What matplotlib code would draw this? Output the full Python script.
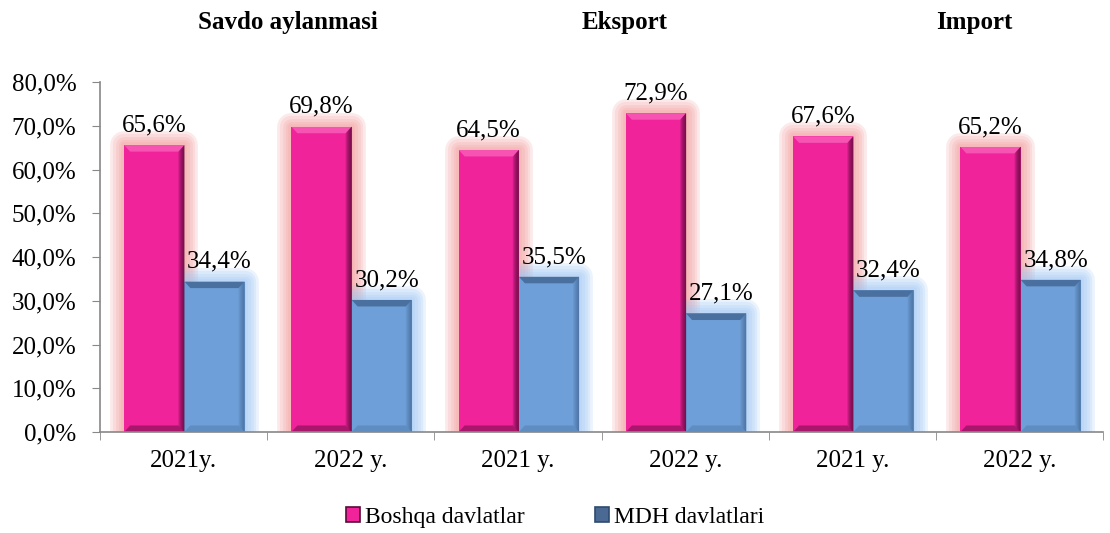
import numpy as np
import matplotlib
matplotlib.use('Agg')
import matplotlib.pyplot as plt
import matplotlib.patheffects as pe
from matplotlib.patches import Polygon
from matplotlib.ticker import FuncFormatter, MultipleLocator

plt.rcParams['font.family'] = ['Liberation Serif', 'DejaVu Serif']

# Data
year_labels = ['2021y.', '2022 y.', '2021 y.', '2022 y.', '2021 y.', '2022 y.']
section_titles = ['Savdo aylanmasi', 'Eksport', 'Import']
boshqa = [65.6, 69.8, 64.5, 72.9, 67.6, 65.2]
mdh = [34.4, 30.2, 35.5, 27.1, 32.4, 34.8]
series_names = ['Boshqa davlatlar', 'MDH davlatlari']

pink = '#F0239B'
pink_dark = '#5A0A3A'
pink_glow = '#F49A9A'
blue = '#6E9FD8'
blue_dark = '#2E4B70'
blue_glow = '#9CC6F5'


def glow(color, steps=(20, 16, 12, 8, 4)):
    # only strokes, the real bar is drawn on top
    return [pe.Stroke(linewidth=w, foreground=color, alpha=0.2, joinstyle='round')
            for w in steps]


def bevel(ax, bar, dark, light, light_alpha, side_alpha, tb=1.5):
    x0, w, h = bar.get_x(), bar.get_width(), bar.get_height()
    x1 = x0 + w
    edge = w * 0.1
    n = 6
    # right dark edge, faded in strips
    for i in range(n):
        xa = x1 - edge * (i + 1) / n
        ax.add_patch(Polygon([(xa, tb * (i + 1) / n), (x1, 0), (x1, h), (xa, h - tb * (i + 1) / n)],
                             closed=True, facecolor=dark, alpha=side_alpha / n * 1.6,
                             lw=0, zorder=3))
    # bottom dark edge
    ax.add_patch(Polygon([(x0, 0), (x1, 0), (x1 - edge, tb), (x0 + edge, tb)],
                         closed=True, facecolor=dark, alpha=side_alpha * 0.6, lw=0, zorder=3))
    # top bevel
    ax.add_patch(Polygon([(x0, h), (x1, h), (x1 - edge, h - tb), (x0 + edge, h - tb)],
                         closed=True, facecolor=light, alpha=light_alpha, lw=0, zorder=3))


fig = plt.figure(figsize=(11.1, 5.33), dpi=100)
ax = fig.add_axes([0.090, 0.1895, 0.904, 0.6565])

x = np.arange(len(year_labels))
bw = 0.36
pos1 = x - bw / 2 + 0.005
pos2 = x + bw / 2 + 0.005

# glow layer behind all bars
g1 = ax.bar(pos1, boshqa, bw, color='none', zorder=1, linewidth=0)
g2 = ax.bar(pos2, mdh, bw, color='none', zorder=1, linewidth=0)
for b in g1:
    b.set_facecolor(pink_glow)
    b.set_path_effects(glow(pink_glow))
for b in g2:
    b.set_facecolor(blue_glow)
    b.set_path_effects(glow(blue_glow))

bars1 = ax.bar(pos1, boshqa, bw, color=pink, zorder=2, linewidth=0)
bars2 = ax.bar(pos2, mdh, bw, color=blue, zorder=2, linewidth=0)

for b in bars1:
    bevel(ax, b, pink_dark, '#FF8FD0', 0.45, 0.8)
for b in bars2:
    bevel(ax, b, blue_dark, blue_dark, 0.55, 0.35)

for b, v in zip(bars1, boshqa):
    ax.text(b.get_x() + b.get_width() / 2, v + 2.0, f'{v:.1f}%'.replace('.', ','),
            ha='center', va='bottom', fontsize=18, zorder=6)
for b, v in zip(bars2, mdh):
    ax.text(b.get_x() + b.get_width() / 2 + 0.03, v + 2.0, f'{v:.1f}%'.replace('.', ','),
            ha='center', va='bottom', fontsize=18, zorder=6)

ax.set_xlim(-0.5, len(year_labels) - 0.5)
ax.set_ylim(0, 80)
ax.yaxis.set_major_locator(MultipleLocator(10))
ax.yaxis.set_major_formatter(FuncFormatter(lambda v, p: f'{v:.1f}%'.replace('.', ',')))

ax.set_xticks(x)
ax.set_xticklabels(year_labels)
ax.set_xticks(np.arange(-0.5, len(year_labels)), minor=True)
ax.tick_params(axis='x', which='major', length=0, pad=13, labelsize=18)
ax.tick_params(axis='x', which='minor', length=6, color='#888888', direction='out')
ax.tick_params(axis='y', length=6, color='#888888', labelsize=18, pad=11)

for s in ['top', 'right']:
    ax.spines[s].set_visible(False)
for s in ['left', 'bottom']:
    ax.spines[s].set_color('#888888')
    ax.spines[s].set_linewidth(1.2)
    ax.spines[s].set_zorder(5)

title_x = [0.259, 0.563, 0.878]
for t, tx in zip(section_titles, title_x):
    fig.text(tx, 0.958, t, ha='center', va='center', fontsize=18, fontweight='bold')

handles = [plt.Rectangle((0, 0), 1, 1, facecolor=pink, edgecolor=pink_dark, lw=1.2),
           plt.Rectangle((0, 0), 1, 1, facecolor='#4A6A94', edgecolor='#2E4B70', lw=1.2)]
fig.legend(handles, series_names, loc='center', bbox_to_anchor=(0.5, 0.03),
           ncol=2, frameon=False, fontsize=17, handlelength=0.6, handleheight=0.6,
           handletextpad=0.2, columnspacing=3.0)

fig.savefig('out.png', dpi=100)
